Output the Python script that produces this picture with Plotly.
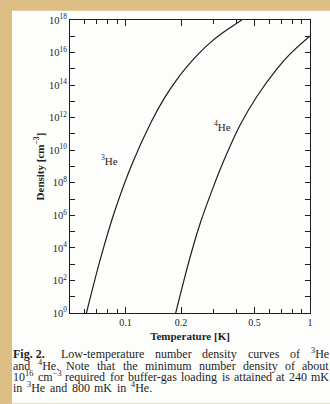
import math
import re
import plotly.graph_objects as go

# ---------------- data ----------------
temp_he3 = [0.0614, 0.0734, 0.0875, 0.1078, 0.1373, 0.163, 0.188, 0.217, 0.250, 0.290, 0.338, 0.427]
dens_he3 = [1.0, 2.5e3, 1.9e6, 1.2e9, 5.1e11, 1.7e13, 1.9e14, 1.5e15, 8.9e15, 4.4e16, 1.7e17, 1.0e18]

temp_he4 = [0.187, 0.210, 0.2284, 0.2556, 0.2993, 0.3393, 0.418, 0.515, 0.662, 0.781, 1.0]
dens_he4 = [1.0, 1.8e2, 6.0e3, 4.0e5, 5.6e7, 2.0e9, 3.5e11, 2.0e13, 1.0e15, 8.3e15, 1.05e17]

x_major = [0.1, 0.2, 0.5, 1.0]
x_major_text = ["0.1", "0.2", "0.5", "1"]
x_minor = [0.06, 0.07, 0.08, 0.09, 0.3, 0.4, 0.6, 0.7, 0.8, 0.9]
y_label_exponents = [0, 2, 4, 6, 8, 10, 12, 14, 16, 18]
y_minor_exponents = [1, 3, 5, 7, 9, 11, 13, 15, 17]

caption_lines = [
    ["<b>Fig. 2.</b>", "Low-temperature", "number", "density", "curves", "of", "<sup>3</sup>He"],
    ["and", "<sup>4</sup>He.", "Note", "that", "the", "minimum", "number", "density", "of", "about"],
    ["10<sup>16</sup>", "cm<sup>\u22123</sup>", "required", "for", "buffer-gas", "loading", "is",
     "attained", "at", "240", "mK"],
    ["in", "<sup>3</sup>He", "and", "800", "mK", "in", "<sup>4</sup>He."],
]

# ---------------- layout helpers ----------------
W, H = 330, 404
ML, MR, MT, MB = 70, 20, 12, 91
PW, PH = W - ML - MR, H - MT - MB


def fx(px):
    return (px - ML) / PW


def fy(py):
    return (H - MB - py) / PH


# Times / Liberation Serif advance widths (per 1000 em) used to justify the caption
REG = {' ': 250, '.': 250, ',': 250, '-': 333, '\u2212': 564, 'A': 722, 'F': 556, 'H': 722, 'K': 722,
       'L': 611, 'N': 722, 'T': 611,
       'a': 444, 'b': 500, 'c': 444, 'd': 500, 'e': 444, 'f': 333, 'g': 500, 'h': 500, 'i': 278,
       'j': 278, 'k': 500, 'l': 278, 'm': 778, 'n': 500, 'o': 500, 'p': 500, 'q': 500, 'r': 333,
       's': 389, 't': 278, 'u': 500, 'v': 500, 'w': 722, 'x': 500, 'y': 500, 'z': 444}
BOLD = {' ': 250, '.': 250, 'F': 611, 'i': 278, 'g': 500}


def text_width(html, size):
    total, sup, bold = 0.0, False, False
    for tok in re.split(r'(<[^>]+>)', html):
        if tok == '<sup>':
            sup = True
        elif tok == '</sup>':
            sup = False
        elif tok == '<b>':
            bold = True
        elif tok == '</b>':
            bold = False
        else:
            for ch in tok:
                w = (BOLD if bold else REG).get(ch, 500)
                total += w * (0.7 if sup else 1.0)
    return total * size / 1000.0


INK = "#1e1e1e"
SERIF = "Liberation Serif"
CAP_SIZE = 12

fig = go.Figure()
for tx, dy in ((temp_he3, dens_he3), (temp_he4, dens_he4)):
    fig.add_trace(go.Scatter(x=tx, y=dy, mode="lines",
                             line=dict(color=INK, width=1.2, shape="spline", smoothing=1.0),
                             showlegend=False, hoverinfo="skip"))

fig.update_xaxes(
    type="log", range=[math.log10(0.05), 0.0],
    showgrid=False, zeroline=False,
    showline=True, linecolor=INK, linewidth=1.2, mirror="ticks",
    ticks="inside", ticklen=6, tickwidth=1, tickcolor=INK,
    tickvals=x_major, ticktext=x_major_text,
    tickfont=dict(family=SERIF, size=10, color=INK),
    minor=dict(tickvals=x_minor, ticks="inside", ticklen=4, tickwidth=1, tickcolor=INK),
    title=dict(text="<b>Temperature [K]</b>", font=dict(family=SERIF, size=11, color=INK),
               standoff=5),
)
fig.update_yaxes(
    type="log", range=[0, 18],
    showgrid=False, zeroline=False,
    showline=True, linecolor=INK, linewidth=1.2, mirror="ticks",
    ticks="inside", ticklen=5, tickwidth=1, tickcolor=INK,
    tickvals=[10 ** k for k in y_label_exponents],
    ticktext=["10<sup>%d</sup>" % k for k in y_label_exponents],
    tickfont=dict(family=SERIF, size=10.5, color=INK),
    minor=dict(tickvals=[10 ** k for k in y_minor_exponents], ticks="inside", ticklen=5,
               tickwidth=1, tickcolor=INK),
    title=dict(text="<b>Density [cm<sup>\u22123</sup>]</b>",
               font=dict(family=SERIF, size=11, color=INK), standoff=2),
)

annotations = [
    dict(x=math.log10(0.082), y=9.4, xref="x", yref="y", text="<sup>3</sup>He", showarrow=False,
         font=dict(family=SERIF, size=11, color=INK)),
    dict(x=math.log10(0.334), y=11.5, xref="x", yref="y", text="<sup>4</sup>He", showarrow=False,
         font=dict(family=SERIF, size=11, color=INK)),
]

LEFT = 13.0
line_right = [329.0, 329.0, 329.0, 152.0]
line_y = [355, 367, 378.5, 390]
for li, words in enumerate(caption_lines):
    widths = [text_width(w, CAP_SIZE) for w in words]
    extra = 5.0 if li == 0 else 0.0   # wider space after "Fig. 2."
    gap = (line_right[li] - LEFT - sum(widths) - extra) / (len(words) - 1)
    xpos = LEFT
    for wi, (wtxt, ww) in enumerate(zip(words, widths)):
        annotations.append(dict(x=fx(xpos), y=fy(line_y[li]), xref="paper", yref="paper",
                                xanchor="left", yanchor="middle", text=wtxt, showarrow=False,
                                borderpad=0, borderwidth=0,
                                font=dict(family=SERIF, size=CAP_SIZE, color=INK)))
        xpos += ww + gap + (extra if wi == 0 else 0.0)

shapes = [
    dict(type="rect", xref="paper", yref="paper", x0=fx(12), x1=fx(W + 2), y0=fy(H + 2), y1=fy(2.5),
         fillcolor="#fdfdfb", line=dict(width=0), layer="below"),
]

fig.update_layout(
    width=W, height=H, autosize=False,
    margin=dict(l=ML, r=MR, t=MT, b=MB, pad=0),
    paper_bgcolor="#dcbd84", plot_bgcolor="#fdfdfb",
    annotations=annotations, shapes=shapes,
    showlegend=False,
)

fig.write_html("out.html")
